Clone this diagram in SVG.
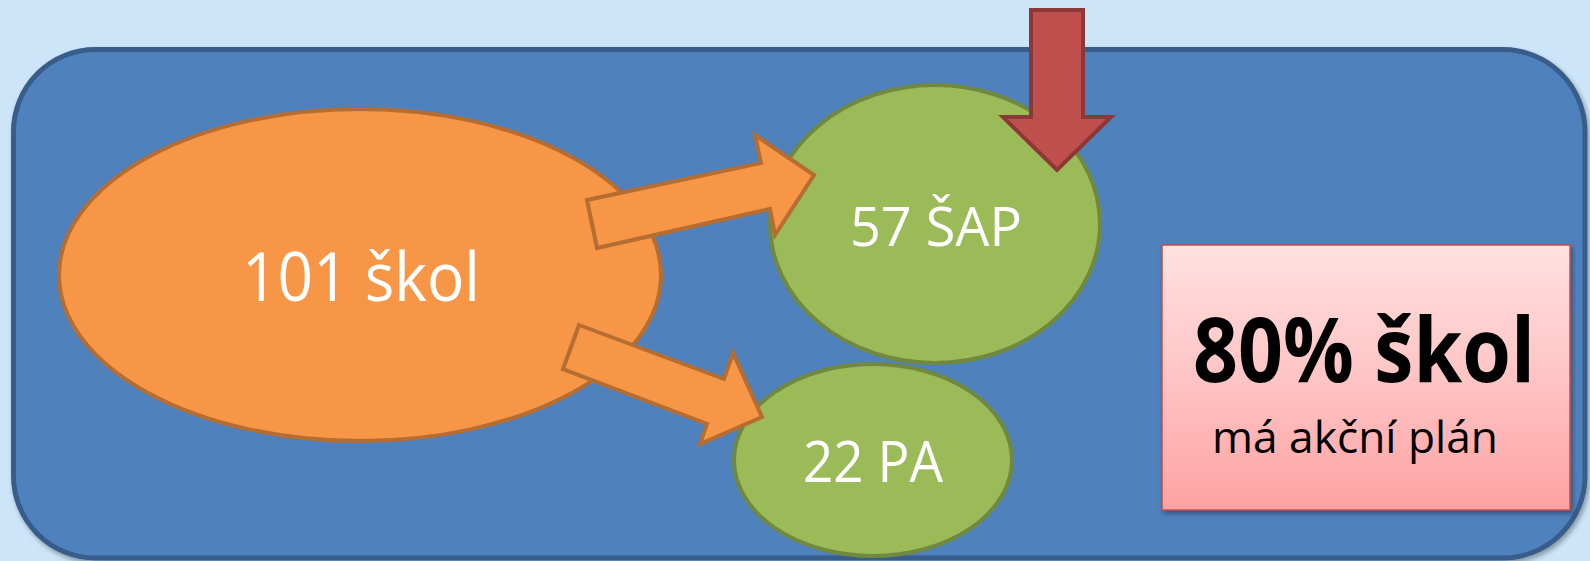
<svg xmlns="http://www.w3.org/2000/svg" width="1590" height="561" viewBox="0 0 1590 561">
  <defs>
    <linearGradient id="pinkGrad" x1="0" y1="0" x2="0" y2="1">
      <stop offset="0" stop-color="#ffe1e1"/>
      <stop offset="0.5" stop-color="#ffc4c4"/>
      <stop offset="1" stop-color="#ffa2a2"/>
    </linearGradient>
    <filter id="shadow" x="-10%" y="-10%" width="120%" height="120%">
      <feDropShadow dx="2" dy="3" stdDeviation="2.5" flood-color="#000" flood-opacity="0.35"/>
    </filter>
    <style>
      .frame { fill:#4f81bd; stroke:#385d8a; stroke-width:5; }
      .orange { fill:#f79646; stroke:#b66d31; stroke-width:4; stroke-linejoin:miter; }
      .green { fill:#9bbb59; stroke:#71893f; stroke-width:4; }
      .red { fill:#c0504d; stroke:#8c3836; stroke-width:4; stroke-linejoin:miter; }
      .lbl { font-family:"Open Sans","Noto Sans","Liberation Sans",sans-serif; fill:#ffffff; text-anchor:middle; }
      .blk { font-family:"Open Sans","Noto Sans","Liberation Sans",sans-serif; fill:#000000; text-anchor:middle; }
    </style>
  </defs>

  <rect x="0" y="0" width="1590" height="561" fill="#cce5f8"/>

  <g id="frame">
    <rect class="frame" x="13.5" y="49.5" width="1571.5" height="508.5" rx="82" ry="82" filter="url(#shadow)"/>
  </g>

  <g id="node-101">
    <ellipse class="orange" cx="360" cy="275" rx="301" ry="166"/>
    <text class="lbl" x="361" y="301" font-size="67" textLength="238" lengthAdjust="spacingAndGlyphs">101 škol</text>
  </g>

  <g id="node-sap">
    <ellipse class="green" cx="935" cy="224" rx="165" ry="139"/>
    <text class="lbl" x="936" y="246" font-size="55" textLength="172" lengthAdjust="spacingAndGlyphs">57 ŠAP</text>
  </g>

  <g id="node-pa">
    <ellipse class="green" cx="873" cy="460" rx="139" ry="96"/>
    <text class="lbl" x="873" y="482" font-size="56" textLength="140" lengthAdjust="spacingAndGlyphs">22 PA</text>
  </g>

  <g id="connectors">
    <path class="orange" d="M587,200 L761,163 L755,135 L814,175 L775,235 L770,209 L597,248 Z"/>
    <path class="orange" d="M579,325 L724,379 L733,353 L762,417 L700,444 L707,424 L563,369 Z"/>
    <path class="red" d="M1031,10 L1083,10 L1083,117 L1111,117 L1057,170 L1003,117 L1031,117 Z"/>
  </g>

  <g id="node-summary">
    <rect x="1162" y="245" width="408" height="265" fill="url(#pinkGrad)" stroke="#c0504d" stroke-width="1.5" filter="url(#shadow)"/>
    <text class="blk" x="1364" y="382" font-size="90" font-weight="bold" textLength="342" lengthAdjust="spacingAndGlyphs">80% škol</text>
    <text class="blk" x="1355" y="453" font-size="44" textLength="286" lengthAdjust="spacingAndGlyphs">má akční plán</text>
  </g>
</svg>
